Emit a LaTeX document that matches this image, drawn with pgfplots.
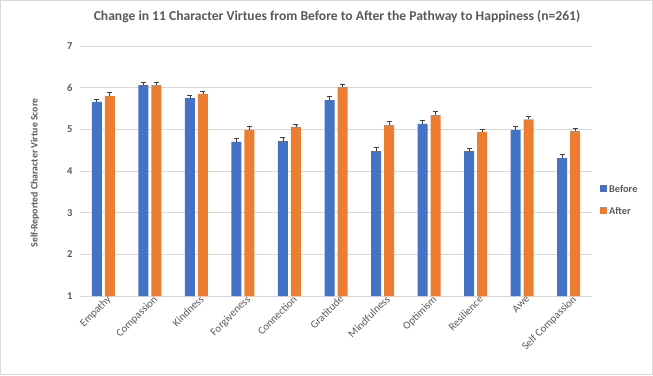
\documentclass[border=0pt]{standalone}
\usepackage{pgfplots}
\pgfplotsset{compat=1.18}
\usepackage{fontspec}
\setmainfont{Carlito}
\definecolor{cblue}{HTML}{4472C4}
\definecolor{corange}{HTML}{ED7D31}
\definecolor{txt}{HTML}{595959}
\definecolor{gridc}{HTML}{D9D9D9}
\begin{document}
\begin{tikzpicture}
\useasboundingbox (0pt,0pt) rectangle (653pt,375pt);
\draw[gridc,line width=0.8pt] (0.5pt,0.5pt) rectangle (652.5pt,374.5pt);
\node[font=\bfseries\fontsize{13.6}{15}\selectfont,text=txt] at (337pt,358pt) {Change in 11 Character Virtues from Before to After the Pathway to Happiness (n=261)};
\node[rotate=90, font=\bfseries\fontsize{9.8}{11}\selectfont, text=txt] at (35pt,202pt) {Self-Reported Character Virtue Score};
\begin{axis}[
  at={(80pt,79pt)}, anchor=south west,
  width=512pt, height=250pt, scale only axis,
  ymin=1, ymax=7, ytick={1,2,3,4,5,6,7},
  xmin=-0.5, xmax=10.5,
  xtick={0,...,10},
  xticklabels={Empathy,Compassion,Kindness,Forgiveness,Connection,Gratitude,Mindfulness,Optimism,Resilience,Awe,Self Compassion},
  xticklabel style={rotate=45, anchor=north east, inner sep=1pt, xshift=4pt, font=\fontsize{10.8}{11}\selectfont, text=txt},
  yticklabel style={font=\bfseries\fontsize{10.5}{11}\selectfont, text=txt, xshift=-4pt},
  /pgf/number format/assume math mode=true,
  axis line style={draw=none},
  major tick length=0pt,
  ymajorgrids, grid style={gridc, line width=0.7pt},
  ybar=3pt, bar width=10pt,
]
\addplot[fill=cblue, draw=none, error bars/.cd, y dir=plus, y explicit, error bar style={black!75, line width=0.7pt}, error mark options={black!75, line width=0.7pt, mark size=2.5pt, rotate=90}]
  coordinates {
  (0,5.66) +- (0,0.07)
  (1,6.06) +- (0,0.07)
  (2,5.75) +- (0,0.07)
  (3,4.70) +- (0,0.08)
  (4,4.72) +- (0,0.08)
  (5,5.70) +- (0,0.08)
  (6,4.48) +- (0,0.08)
  (7,5.13) +- (0,0.08)
  (8,4.48) +- (0,0.07)
  (9,4.98) +- (0,0.08)
  (10,4.31) +- (0,0.08)
  };
\addplot[fill=corange, draw=none, error bars/.cd, y dir=plus, y explicit, error bar style={black!75, line width=0.7pt}, error mark options={black!75, line width=0.7pt, mark size=2.5pt, rotate=90}]
  coordinates {
  (0,5.80) +- (0,0.08)
  (1,6.06) +- (0,0.07)
  (2,5.85) +- (0,0.07)
  (3,4.99) +- (0,0.08)
  (4,5.06) +- (0,0.07)
  (5,6.02) +- (0,0.07)
  (6,5.10) +- (0,0.08)
  (7,5.34) +- (0,0.10)
  (8,4.94) +- (0,0.07)
  (9,5.24) +- (0,0.08)
  (10,4.96) +- (0,0.07)
  };
\end{axis}
\fill[cblue] (600pt,182.5pt) rectangle (607pt,189.5pt);
\node[anchor=west, font=\bfseries\fontsize{10.3}{11}\selectfont, text=txt, inner sep=0pt] at (609pt,186pt) {Before};
\fill[corange] (600pt,160.5pt) rectangle (607pt,167.5pt);
\node[anchor=west, font=\bfseries\fontsize{10.3}{11}\selectfont, text=txt, inner sep=0pt] at (609pt,164pt) {After};
\end{tikzpicture}
\end{document}
